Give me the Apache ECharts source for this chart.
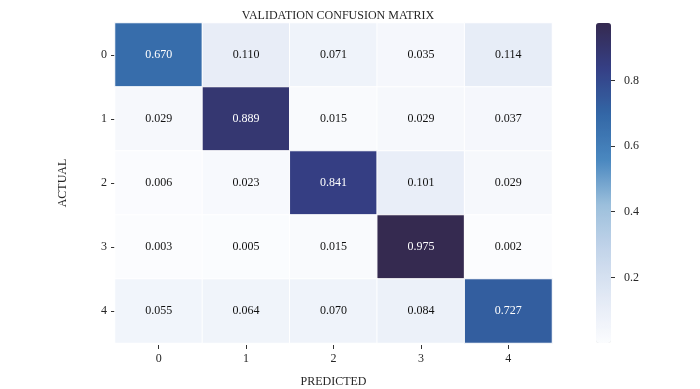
<!DOCTYPE html>
<html>
<head>
<meta charset="utf-8">
<script src="https://cdn.jsdelivr.net/npm/echarts@6/dist/echarts.min.js"></script>
<style>html,body{margin:0;padding:0;background:#fff;}#c{width:700px;height:389px;}</style>
</head>
<body>
<div id="c"></div>
<script>
const titleText = "VALIDATION CONFUSION MATRIX";
const predictedLabels = ["0", "1", "2", "3", "4"];
const actualLabels = ["0", "1", "2", "3", "4"];
const row0 = [0.670, 0.110, 0.071, 0.035, 0.114];
const row1 = [0.029, 0.889, 0.015, 0.029, 0.037];
const row2 = [0.006, 0.023, 0.841, 0.101, 0.029];
const row3 = [0.003, 0.005, 0.015, 0.975, 0.002];
const row4 = [0.055, 0.064, 0.070, 0.084, 0.727];
const rows = [row0, row1, row2, row3, row4];
const colorbarTicks = [0.2, 0.4, 0.6, 0.8];

const FONT = "Liberation Serif";
const TXT = "#262626";
let vmin = Infinity, vmax = -Infinity;
const data = [];
rows.forEach((r, yi) => r.forEach((v, xi) => {
  vmin = Math.min(vmin, v); vmax = Math.max(vmax, v);
  data.push({ value: [xi, yi, v], label: { color: v > 0.5 ? "#ffffff" : "#111111" } });
}));

const chart = echarts.init(document.getElementById("c"), null, { renderer: "canvas" });
chart.setOption({
  animation: false,
  backgroundColor: "#ffffff",
  title: {
    text: titleText, left: 333, top: 5, textAlign: "center",
    textStyle: { fontFamily: FONT, fontWeight: "normal", fontSize: 12, color: TXT }
  },
  grid: [
    { left: 115, top: 23, width: 437, height: 320, containLabel: false, outerBoundsMode: "none" },
    { left: 611, top: 23, width: 1, height: 320, containLabel: false, outerBoundsMode: "none" }
  ],
  xAxis: [
    {
      type: "category", data: predictedLabels, gridIndex: 0, offset: 2,
      name: "PREDICTED", nameLocation: "middle", nameGap: 31,
      nameTextStyle: { fontFamily: FONT, fontSize: 12, color: TXT },
      axisLine: { show: false },
      axisTick: { show: true, alignWithLabel: true, length: 4, lineStyle: { color: "#333" } },
      axisLabel: { fontFamily: FONT, fontSize: 12, color: TXT, margin: 8 },
      splitLine: { show: false }
    },
    { type: "value", gridIndex: 1, show: false, min: 0, max: 1 }
  ],
  yAxis: [
    {
      type: "category", data: actualLabels, gridIndex: 0, inverse: true,
      name: "ACTUAL", nameLocation: "middle", nameGap: 46, nameRotate: 90,
      nameTextStyle: { fontFamily: FONT, fontSize: 12, color: TXT },
      axisLine: { show: false },
      axisTick: { show: true, alignWithLabel: true, length: 4, lineStyle: { color: "#333" } },
      axisLabel: { fontFamily: FONT, fontSize: 12, color: TXT, margin: 8 },
      splitLine: { show: false }
    },
    {
      type: "value", gridIndex: 1, position: "right", min: 0, max: vmax, z: 10,
      axisLine: { show: false },
      axisTick: { show: true, inside: false, length: 4, customValues: colorbarTicks, lineStyle: { color: "#333", width: 1 } },
      axisLabel: {
        fontFamily: FONT, fontSize: 12, color: TXT, margin: 12, customValues: colorbarTicks,
        formatter: v => v.toFixed(1)
      },
      splitLine: { show: false }
    }
  ],
  visualMap: {
    type: "continuous", min: vmin, max: vmax, dimension: 2, seriesIndex: 0,
    calculable: false, realtime: false, show: true, text: ["", ""], hoverLink: false,
    left: 596, top: 23, itemWidth: 15, itemHeight: 320, padding: 0,
    orient: "vertical", z: 0,
    inRange: { color: ["#fbfcfe", "#e2e9f5", "#c4d5ea", "#9dc0dc", "#4a88c0", "#3367a6", "#353f85", "#352a50"] },
    textStyle: { color: "transparent" }
  },
  series: [{
    type: "heatmap", xAxisIndex: 0, yAxisIndex: 0,
    data: data,
    label: {
      show: true, fontFamily: FONT, fontSize: 12,
      formatter: p => p.value[2].toFixed(3)
    },
    itemStyle: { borderColor: "#ffffff", borderWidth: 1 },
    emphasis: { disabled: true }
  }]
});
</script>
</body>
</html>
